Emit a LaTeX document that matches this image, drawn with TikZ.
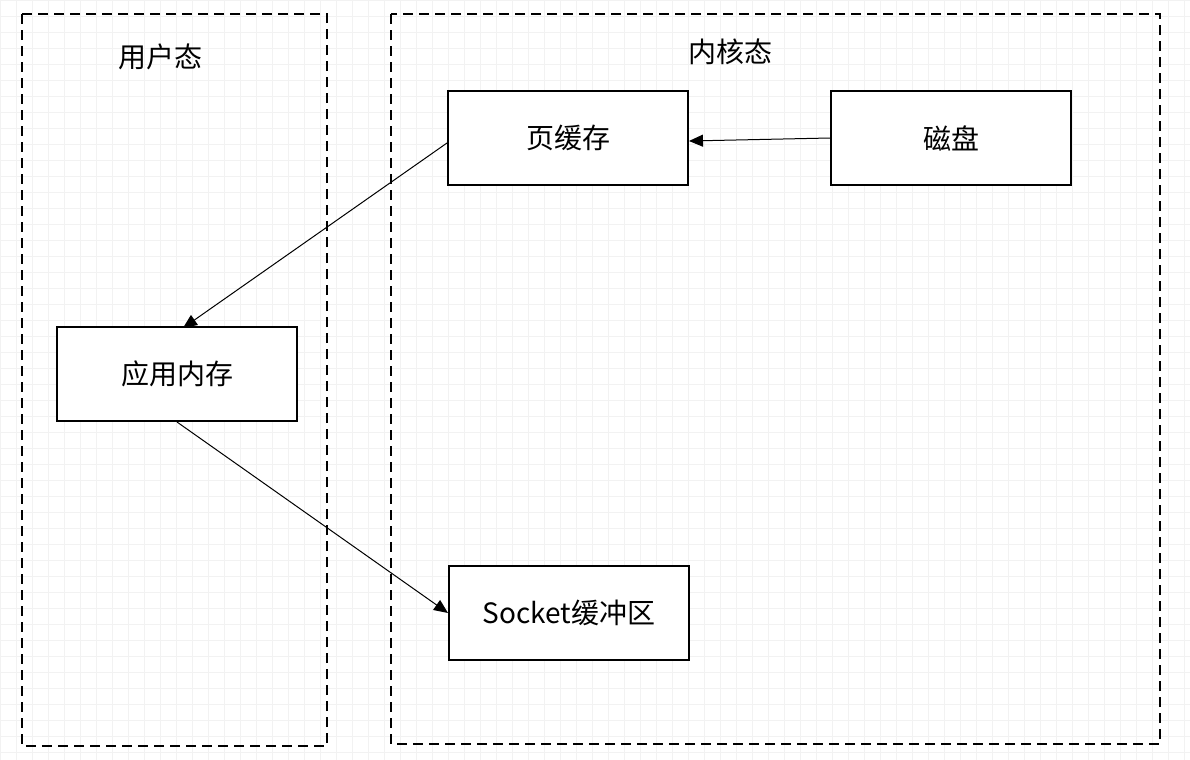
\documentclass[tikz,border=0pt]{standalone}
\usepackage{fontspec}
\newfontfamily\cjk{Noto Sans CJK SC}
\usepackage{tikz}
\usetikzlibrary{arrows.meta,calc}
\tikzset {>={Triangle[length=7pt,width=6pt]}}
\tikzset{box/.style={draw,line width=1pt,fill=white,minimum width=120pt,minimum height=47pt,font=\cjk\fontsize{14}{16}\selectfont},
  zone/.style={draw,line width=1pt,dash pattern=on 5pt off 3pt},
  title/.style={font=\cjk\fontsize{14}{16}\selectfont}}

\begin{document}
\begin{tikzpicture}[x=0.5pt,y=-0.5pt]
\useasboundingbox (0,0) rectangle (1190,760);
\fill[white] (0,0) rectangle (1190,760);
\foreach \g in {0,16,...,1190} \draw[black!5,line width=0.4pt] (\g,0) -- (\g,760);
\foreach \g in {0,16,...,760} \draw[black!5,line width=0.4pt] (0,\g) -- (1190,\g);
\draw[zone] (22,14) rectangle (327,746);
\draw[zone] (391,14) rectangle (1160,744);
\node[title] (user) at (160,57) {用户态};
\node[title] (kernel) at (730,52) {内核态};
\node[box] (cache) at (568,138) {页缓存};
\node[box] (disk) at (951,138) {磁盘};
\node[box] (mem) at (177,374) {应用内存};
\node[box] (sock) at (569,613) {Socket缓冲区};
\coordinate (memtop) at (183,328);
\draw[->,line width=0.5pt] (disk.west) -- ($(cache.east)+(0,3)$);
\draw[->,line width=0.5pt] ($(cache.west)+(0,5)$) -- (memtop);
\draw[->,line width=0.5pt] (mem.south) -- (sock.west);
\end{tikzpicture}
\end{document}
